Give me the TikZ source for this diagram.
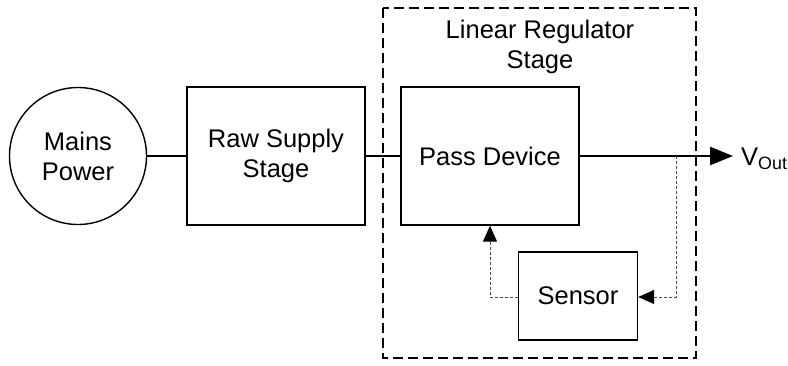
\documentclass[tikz,border=0pt]{standalone}
\usepackage{fontspec}
\setmainfont{Liberation Sans}
\usetikzlibrary{arrows.meta}
\begin{document}
\begin{tikzpicture}[x=1pt,y=-1pt,
  every node/.style={font=\fontsize{25.5}{30}\selectfont, align=center, inner sep=0pt},
  blk/.style={draw, line width=1.4pt},
  wire/.style={line width=2.5pt},
  fb/.style={draw=black!70, line width=1pt, dash pattern=on 3pt off 2pt},
  fbtip/.style={-{Triangle[length=16pt,width=14pt,color=black,fill=black]}}
]
\useasboundingbox (0,0) rectangle (788,365);
\draw[line width=1.3pt, dash pattern=on 10pt off 5pt] (383,8) rectangle (696,358);
\node at (540,47) {Linear Regulator\\Stage};
\node[blk, circle, minimum size=137pt] (mains) at (78,156) {Mains\\Power};
\node[blk, minimum width=178pt, minimum height=138pt] (raw) at (276,156) {Raw Supply\\Stage};
\node[blk, minimum width=178pt, minimum height=138pt] (pass) at (490,156) {Pass Device};
\node[blk, minimum width=119pt, minimum height=88pt] (sens) at (578,296) {Sensor};
\coordinate (tip) at (733,156);
\node[anchor=west] (vout) at (741,159) {V\textsubscript{Out}};
\draw[wire] (mains.east) -- (raw.west);
\draw[wire] (raw.east) -- (pass.west);
\draw[wire, -{Triangle[length=23pt,width=18pt]}] (pass.east) -- (tip);
\coordinate (tap) at (676,156);
\coordinate (fbr) at (676,297);
\coordinate (fbl) at (490,297);
\draw[fb, fbtip] (tap) -- (fbr) -- (sens.east |- fbr);
\draw[fb, fbtip] (sens.west |- fbl) -- (fbl) -- (pass.south -| fbl);
\end{tikzpicture}
\end{document}
